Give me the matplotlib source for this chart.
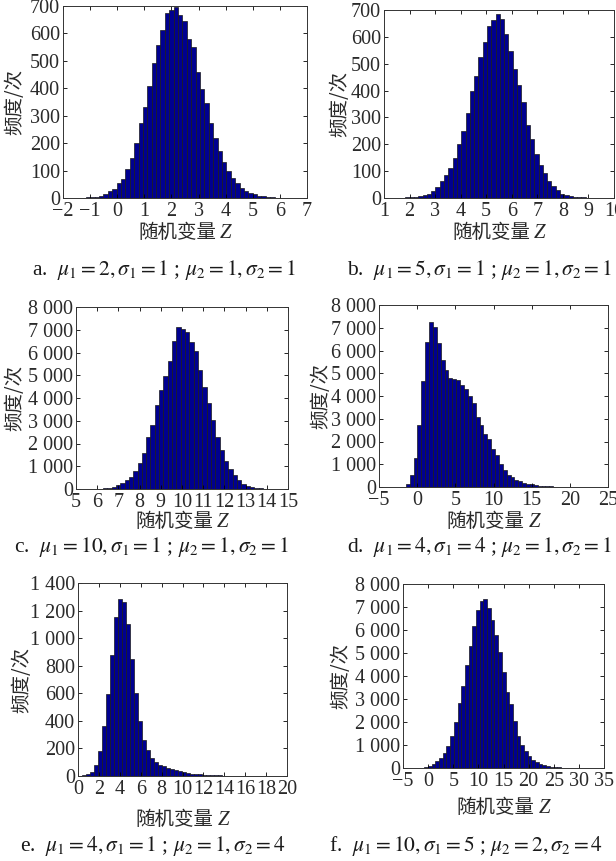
import numpy as np
import matplotlib.pyplot as plt

plt.rcParams['font.family'] = ['Liberation Serif', 'Noto Sans CJK SC', 'DejaVu Sans']
plt.rcParams['mathtext.fontset'] = 'stix'
plt.rcParams['axes.unicode_minus'] = True

# histogram counts (equal-width bins over each range)
a_range = (-1.32, 6.13)
a_counts = [1, 2, 3, 5, 9, 14, 25, 32, 53, 69, 106, 146, 199, 272, 331, 409,
            491, 557, 613, 674, 686, 698, 669, 646, 580, 551, 461, 399, 346,
            273, 220, 173, 133, 99, 74, 56, 37, 25, 18, 14, 9, 6, 4, 2, 1, 1]

b_range = (1.50, 9.40)
b_counts = [1, 1, 2, 3, 4, 6, 11, 16, 25, 40, 62, 85, 110, 150, 200, 250,
            315, 398, 455, 525, 580, 640, 662, 684, 668, 610, 547, 482, 422,
            358, 273, 219, 165, 122, 93, 63, 43, 29, 16, 10, 6, 4, 3, 2, 1, 1, 1]

c_range = (5.25, 14.43)
c_counts = [10, 5, 8, 12, 20, 35, 60, 100, 174, 275, 390, 536, 797, 1160,
            1594, 2275, 2812, 3696, 4333, 4985, 5609, 6507, 7130, 7029, 6913,
            6449, 6072, 5217, 4478, 3783, 3029, 2275, 1700, 1230, 900, 620,
            400, 230, 130, 80, 50, 30, 20, 12, 8]

d_range = (-2.0, 22.4)
d_counts = [20, 146, 511, 1270, 2730, 4670, 6390, 7270, 7036, 6350, 5577,
            5140, 4790, 4745, 4700, 4500, 4310, 4015, 3693, 3095, 2745, 2336,
            2088, 1679, 1416, 993, 730, 511, 438, 292, 248, 175, 146, 117, 88,
            58, 44, 30, 25, 20, 15, 12, 10, 8, 6, 5, 4, 3]

e_range = (0.0, 18.77)
e_counts = [2, 5, 15, 30, 80, 180, 360, 595, 880, 1150, 1285, 1265, 1100, 850,
            605, 400, 260, 185, 130, 100, 78, 70, 55, 48, 40, 33, 28, 22, 18,
            14, 11, 9, 7, 6, 5, 4, 3, 3, 2, 2, 2, 1, 1, 1, 1, 1, 1, 1, 1]

f_range = (-3.7, 32.3)
f_counts = [5, 8, 12, 20, 40, 75, 175, 290, 450, 650, 950, 1390, 2000, 2820,
            3570, 4500, 5300, 6170, 6850, 7270, 7350, 6970, 6450, 5800, 5050,
            4180, 3300, 2800, 2030, 1390, 1000, 720, 530, 360, 240, 160, 110,
            75, 55, 35, 25, 18, 12, 8, 6, 5, 4, 3, 2]

captions = [
    r'a.  $\mu_1=2,\sigma_1=1$ ; $\mu_2=1,\sigma_2=1$',
    r'b.  $\mu_1=5,\sigma_1=1$ ; $\mu_2=1,\sigma_2=1$',
    r'c.  $\mu_1=10,\sigma_1=1$ ; $\mu_2=1,\sigma_2=1$',
    r'd.  $\mu_1=4,\sigma_1=4$ ; $\mu_2=1,\sigma_2=1$',
    r'e.  $\mu_1=4,\sigma_1=1$ ; $\mu_2=1,\sigma_2=4$',
    r'f.  $\mu_1=10,\sigma_1=5$ ; $\mu_2=2,\sigma_2=4$',
]

W, H = 616, 861
fig = plt.figure(figsize=(W / 100, H / 100), dpi=100)
TXT = '#2a2a2a'


def fmt(v):
    s = f"{v:,}".replace(",", " ")
    return s.replace("-", "\u2212")


def panel(box, rng, counts, xlim, xticks, ylim, yticks, ylab_x, xlab_y):
    l, r, t, b = box
    ax = fig.add_axes([l / W, 1 - b / H, (r - l) / W, (b - t) / H])
    edges = np.linspace(rng[0], rng[1], len(counts) + 1)
    ax.bar(edges[:-1], counts, width=np.diff(edges), align='edge',
           color='#000090', edgecolor='#1a1a1a', linewidth=0.5)
    ax.set_xlim(xlim)
    ax.set_ylim(ylim)
    ax.set_xticks(xticks, [fmt(v) for v in xticks])
    ax.set_yticks(yticks, [fmt(v) for v in yticks])
    ax.tick_params(direction='in', top=True, right=True, length=3, width=0.6,
                   labelsize=14.5, labelcolor=TXT)
    ax.tick_params(axis='x', pad=3)
    ax.tick_params(axis='y', pad=2)
    for s in ax.spines.values():
        s.set_linewidth(0.7)
        s.set_color('#333333')
    ax.set_ylabel('频度/次', fontsize=14, color=TXT, family=['Noto Sans CJK SC'])
    ax.yaxis.set_label_coords(ylab_x, 0.5)
    ax.yaxis.label.set_va('center')
    # x label: CJK words followed by an italic Z
    cjk = ax.annotate('随机变量', xy=(0.5, xlab_y), xycoords='axes fraction',
                      xytext=(-8, 0), textcoords='offset pixels',
                      ha='center', va='center', fontsize=14, color=TXT,
                      family=['Noto Sans CJK SC'])
    ax.annotate('Z', xy=(1, 0.5), xycoords=cjk, xytext=(4, -1),
                textcoords='offset pixels', ha='left', va='center',
                fontsize=15, style='italic', color=TXT,
                family=['Liberation Serif'])
    return ax


panel((63, 307, 6, 198), a_range, a_counts, (-2, 7), list(range(-2, 8)),
      (0, 700), list(range(0, 701, 100)), -0.197, -0.182)
panel((384, 614, 10, 198), b_range, b_counts, (1, 10), list(range(1, 11)),
      (0, 700), list(range(0, 701, 100)), -0.194, -0.186)
panel((76, 288, 307, 489), c_range, c_counts, (5, 15), list(range(5, 16)),
      (0, 8000), list(range(0, 8001, 1000)), -0.288, -0.181)
panel((379, 608, 305, 487), d_range, d_counts, (-5, 25), list(range(-5, 26, 5)),
      (0, 8000), list(range(0, 8001, 1000)), -0.253, -0.192)
panel((78, 287, 583, 776), e_range, e_counts, (0, 20), list(range(0, 21, 2)),
      (0, 1400), list(range(0, 1401, 200)), -0.268, -0.223)
panel((403, 604, 584, 768), f_range, f_counts, (-5, 35), list(range(-5, 36, 5)),
      (0, 8000), list(range(0, 8001, 1000)), -0.308, -0.212)

cap_pos = [(32, 270), (347, 270), (14, 547), (347, 547), (20, 846), (329, 846)]
for (x, y), txt in zip(cap_pos, captions):
    fig.text(x / W, 1 - y / H, txt, fontsize=15.5, ha='left', va='center',
             color='#1a1a1a')

fig.savefig('out.png', dpi=100)
